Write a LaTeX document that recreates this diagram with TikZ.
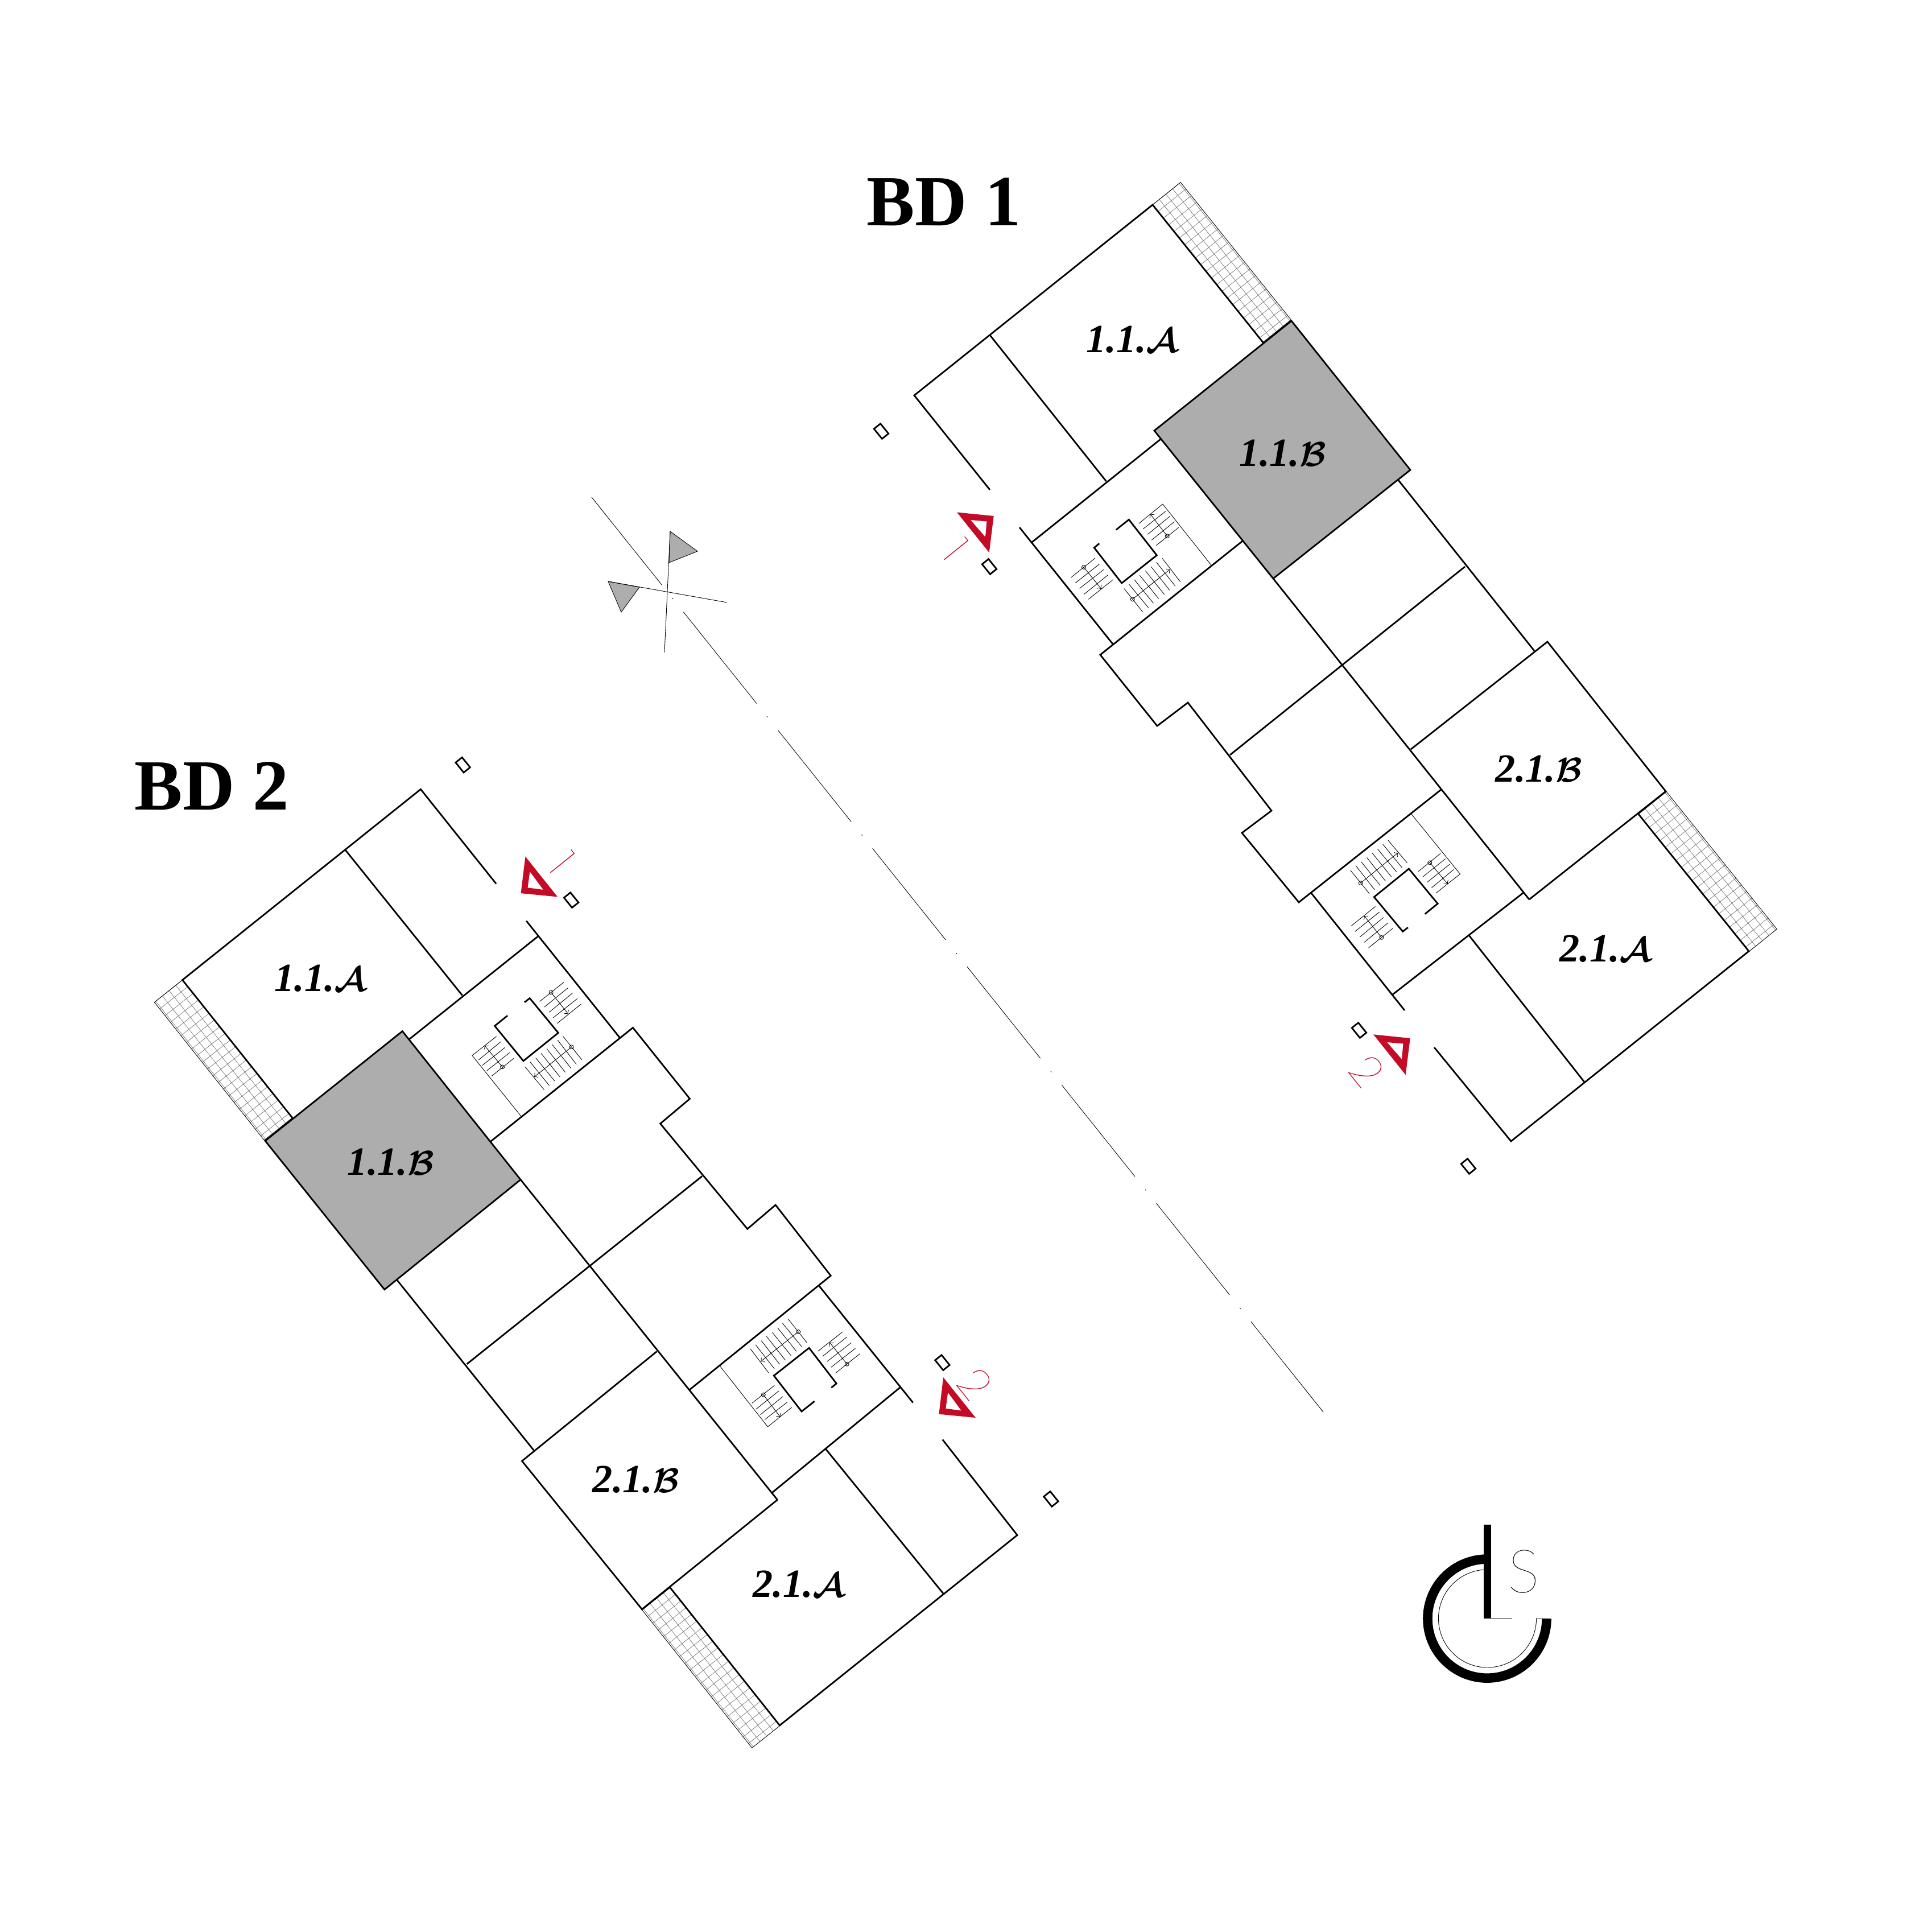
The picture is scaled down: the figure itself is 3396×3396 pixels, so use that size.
\documentclass[tikz,border=0pt]{standalone}
\usepackage{fontspec}
\newfontfamily\titrefont{Liberation Serif}
\newfontfamily\fontfin{Lato Hairline}
\newfontfamily\fontcoupe{Poppins Thin}
\definecolor{gris}{HTML}{ADADAD}
\definecolor{rouge}{HTML}{C30A26}
\newcommand{\lettre}[1]{{\fontsize{19}{20}\selectfont$\mathcal{#1}$}}

\newcommand{\escalier}{
\draw[mince] (2129,993.3) -- (2043.7,886);
\draw[mince] (2001.7,920.3) -- (2043.7,886);
\draw[mince] (2009.3,929.7) -- (2049,898.7);
\draw[mince] (2017.3,939.3) -- (2056.7,907.3);
\draw[mince] (2024.3,949.3) -- (2064.3,917);
\draw[mince] (2032.3,958.7) -- (2071.7,927.3);
\draw[mince] (2051.7,942.3) circle[radius=0.035cm];
\draw[mince,->] (2051.7,942.3) -- (2021.7,903.3);
\draw[mince] (1975.7,1034.3) -- (2008.7,1075.7);
\draw[mince] (1984.3,1026.7) -- (2018.7,1068.3);
\draw[mince] (1994,1019) -- (2027.3,1060.3);
\draw[mince] (2003.3,1011.3) -- (2036.7,1052.3);
\draw[mince] (2013.3,1003.3) -- (2046.7,1045);
\draw[mince] (2023.3,996) -- (2055.7,1037.3);
\draw[mince] (2032.7,988.3) -- (2065.7,1030);
\draw[mince] (2042.7,981) -- (2074.7,1022.7);
\draw[mince] (1990.7,1053.3) circle[radius=0.035cm];
\draw[mince,->] (1990.7,1053.3) -- (2056.7,1000.7);
\draw[mince] (1882.3,1015.3) -- (1925,981);
\draw[mince] (1890.3,1024.7) -- (1932.7,991.3);
\draw[mince] (1897.7,1034.3) -- (1940,1001.3);
\draw[mince] (1905.3,1044.7) -- (1948,1010.3);
\draw[mince] (1913.3,1053.3) -- (1956,1019.3);
\draw[mince] (1905,997) circle[radius=0.035cm];
\draw[mince,->] (1905,997) -- (1935.7,1035);
\draw[mur] (1932.3,955.3) -- (1923.3,962.7) -- (1971.7,1025) -- (2033.3,976) -- (1984.3,913.3) -- (1961.7,931.3);
}

\newcommand{\batiment}{
\begin{scope}[shift={(2026,360)},rotate=-51.2]
\draw[hachure] (0,0) grid (310,-63);
\draw[mince] (0,0) rectangle (310,-63);
\end{scope}
\begin{scope}[shift={(2880,1431)},rotate=-51.2]
\draw[hachure] (0,0) grid (310,-63);
\draw[mince] (0,0) rectangle (310,-63);
\end{scope}
\draw[mur] (1740,861) -- (1607,695) -- (2026,360) -- (2221,603);
\draw[mur] (1740,589) -- (1944.5,846);
\draw[mur] (2040,772) -- (1814,953);
\draw[mur] (1792,927) -- (1956,1132);
\draw[mur] (2184,951) -- (1934,1151) -- (2034,1276) -- (2088,1235) -- (2235,1425) -- (2183,1464) -- (2283,1586) -- (2533,1388);
\draw[mur] (2162,1327) -- (2575,996);
\draw[mur] (2238,1017) -- (2688,1581);
\draw[mur] (2458,844) -- (2697,1144);
\draw[mur] (2480,1317) -- (2720,1128) -- (2928,1391) -- (2688,1581);
\draw[mur] (2678,1569) -- (2448,1748);
\draw[mur] (2305,1570) -- (2469,1776);
\draw[mur] (2582,1644) -- (2785,1902);
\draw[mur] (2880,1431) -- (3074,1672) -- (2656,2006) -- (2521,1841);
\draw[mur,fill=gris] (2270,564) -- (2479,826) -- (2238,1017) -- (2029,757) -- cycle;
\escalier
\begin{scope}[shift={(2192.5,1301.7)},rotate=-51.2,xscale=-1,rotate=51.2,shift={(-2192.5,-1301.7)}]
\escalier
\end{scope}
\node[poteau] (P1) at (1549,758) {};
\node[poteau] (P2) at (1739,996) {};
\node[poteau] (P3) at (2389,1811) {};
\node[poteau] (P4) at (2581,2050) {};
\fill[rouge,even odd rule] (1682,900.5) -- (1746.7,907) -- (1738.7,971.3) -- cycle (1706,914) -- (1734.5,916.5) -- (1732,944) -- cycle;
\fill[rouge,even odd rule] (2414,1818.3) -- (2478.7,1825) -- (2470.7,1889.3) -- cycle (2438,1832) -- (2466.5,1834.5) -- (2464,1862) -- cycle;
}

\begin{document}
\begin{tikzpicture}[x=0.01cm,y=-0.01cm]
\tikzset{mur/.style={draw, line width=0.8pt, line join=miter},
  mince/.style={draw, line width=0.25pt},
  hachure/.style={draw=black!55, line width=0.2pt, step=0.15cm},
  poteau/.style={draw, line width=0.8pt, rotate=-51.2, minimum width=0.225cm, minimum height=0.145cm, inner sep=0pt},
  piece/.style={font=\titrefont\fontsize{20}{22}\selectfont\bfseries\itshape\boldmath},
  titre/.style={font=\titrefont\fontsize{36}{40}\selectfont\bfseries},
  coupe/.style={text=rouge, rotate=-51.2, font=\fontcoupe\fontsize{22}{24}\selectfont}}
\useasboundingbox (0,0) rectangle (3396,3396);
\batiment
\begin{scope}[shift={(-1.5,-0.5)},shift={(1040,874)},rotate=-51.34,yscale=-1,rotate=51.34,shift={(-1040,-874)}]
\batiment
\end{scope}
% textes
\node[titre] (BD1) at (1659,355) {BD 1};
\node[titre] (BD2) at (372,1382) {BD 2};
\node[piece] (A1) at (1990,597) {1.1.\lettre{A}};
\node[piece] (B1) at (2255,797) {1.1.\lettre{B}};
\node[piece] (C1) at (2705,1352) {2.1.\lettre{B}};
\node[piece] (D1) at (2822,1668) {2.1.\lettre{A}};
\node[piece] (A2) at (563,1720) {1.1.\lettre{A}};
\node[piece] (B2) at (687,2043) {1.1.\lettre{B}};
\node[piece] (C2) at (1118,2601) {2.1.\lettre{B}};
\node[piece] (D2) at (1404,2785) {2.1.\lettre{A}};
\node[coupe] (N1) at (1680,966) {1};
\node[coupe] (N2) at (2403,1882) {2};
\node[coupe] (N3) at (988,1516) {1};
\node[coupe] (N4) at (1714,2432) {2};
% axe et nord
\draw[mince,dash pattern=on 58.6pt off 8.25pt on 0.6pt off 8.25pt,dash phase=2.3pt] (1040,874) -- (2326,2482);
\draw[mince,fill=gris] (1178,934) -- (1226,969) -- (1176,989) -- cycle;
\draw[mince,fill=gris] (1069,1022) -- (1124,1032) -- (1092,1076) -- cycle;
\draw[mince] (1178,934) -- (1168,1147);
\draw[mince] (1069,1022) -- (1278,1059);
% logo
\draw[line width=4.7pt] (2614,2740.5) arc[start angle=90,end angle=360,radius=1.045cm];
\draw[mince] (2610,2759) arc[start angle=93,end angle=360,radius=0.86cm] -- (2710,2845);
\fill (2608,2680) rectangle (2621,2845);
\draw[mince] (2621,2845) -- (2658,2845);
\node[font=\fontfin\fontsize{30}{32}\selectfont] (S) at (2678,2763) {S};
\end{tikzpicture}
\end{document}
